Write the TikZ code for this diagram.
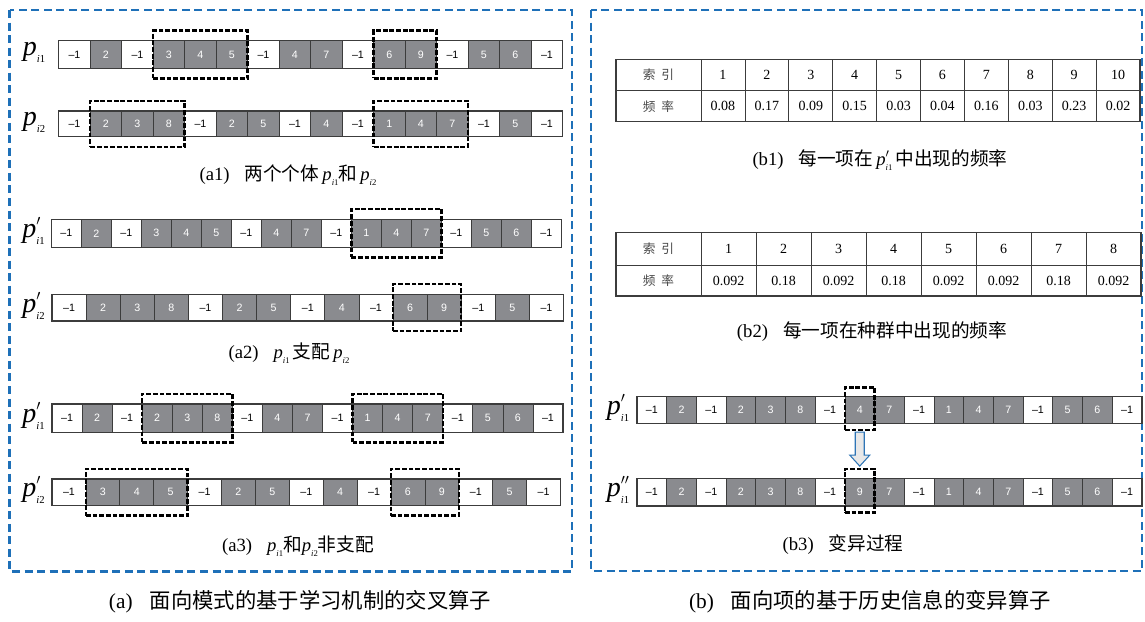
\documentclass[tikz,border=0pt]{standalone}
\usepackage{fontspec}
\setmainfont{Liberation Serif}
\newfontfamily\cjk{Noto Sans CJK SC}
\newfontfamily\cellsf{Liberation Sans}
\usetikzlibrary{fit}
\definecolor{panelblue}{RGB}{30,112,184}
\definecolor{cellgray}{RGB}{138,139,143}
\definecolor{cellline}{RGB}{60,60,60}
\definecolor{arrowblue}{RGB}{46,117,182}
\definecolor{arrowfill}{RGB}{232,232,232}
\definecolor{headgray}{RGB}{70,70,70}

% p with subscript (and optional primes): #1 primes (math), #2 index digit
\newcommand{\pvar}[2]{{\itshape p}\makebox[0pt][l]{\raisebox{0.42em}{$\scriptstyle#1$}}\raisebox{-0.28em}{\fontsize{0.42em}{0.42em}\selectfont\itshape i\upshape #2}}
\newcommand{\pbig}[2]{{\itshape p}\makebox[0pt][l]{\raisebox{0.45em}{\fontsize{11}{11}\selectfont$#1$}}\raisebox{-0.25em}{\fontsize{8}{8}\selectfont\itshape i\upshape #2}}
\newcommand{\psmall}[2]{{\itshape p}\makebox[0pt][l]{\raisebox{0.45em}{\fontsize{9}{9}\selectfont$#1$}}\raisebox{-0.25em}{\fontsize{6.5}{6.5}\selectfont\itshape i\upshape #2}}

\tikzset{
  panel/.style={draw=panelblue, line width=1.8pt, dash pattern=on 6pt off 3.4pt},
  cell/.style={draw=cellline, line width=0.6pt, inner sep=0pt, outer sep=0pt, font=\cellsf\fontsize{8}{9}\selectfont},
  rowframe/.style={draw=cellline, line width=0.9pt},
  selbox/.style={draw=black, line width=1.9pt, dash pattern=on 3.6pt off 1.4pt, inner xsep=0pt, inner ysep=7.6pt, fill=none},
  selboxs/.style={draw=black, line width=1.9pt, dash pattern=on 3.6pt off 1.4pt, inner xsep=0pt, inner ysep=6pt, yshift=1.1pt, fill=none},
  tcell/.style={draw=cellline, line width=0.6pt, inner sep=0pt, outer sep=0pt, font=\fontsize{10.5}{12}\selectfont},
  thead/.style={tcell, text=headgray, font=\cjk\fontsize{9.5}{11}\selectfont},
  rowlabel/.style={inner sep=0pt, font=\fontsize{21}{21}\selectfont},
  subcap/.style={inner sep=0pt, font=\fontsize{14}{16}\selectfont},
  maincap/.style={inner sep=0pt, font=\fontsize{16}{18}\selectfont},
  hollowarrow/.style={draw=arrowblue, line width=0.8pt, fill=arrowfill, line join=miter},
}

% #1 name, #2 x0, #3 y top, #4 y bottom, #5 cell width, #6 list
\newcommand{\cellrow}[6]{%
  \pgfmathsetmacro{\cwpt}{#5*0.75}%
  \pgfmathsetmacro{\chpt}{(#4-#3)*0.75}%
  \pgfmathsetmacro{\cyy}{(#3+#4)/2}%
  \foreach \v [count=\k] in {#6} {%
    \pgfmathsetmacro{\cxx}{#2+(\k-0.5)*#5}%
    \ifnum\v<0
      \node[cell, fill=white, text=black, minimum width=\cwpt pt, minimum height=\chpt pt] (#1-\k) at (\cxx,\cyy) {–1};
    \else
      \node[cell, fill=cellgray, text=white, minimum width=\cwpt pt, minimum height=\chpt pt] (#1-\k) at (\cxx,\cyy) {\v};
    \fi
    \xdef\lastcell{\k}%
  }%
  \draw[rowframe] (#1-1.north west) rectangle (#1-\lastcell.south east);
}

\begin{document}
\begin{tikzpicture}[x=0.75pt,y=-0.75pt]
\useasboundingbox[fill=white] (0,0) rectangle (1145,621);

% panels
\draw[panel] (9.5,10) rectangle (572,571.5);
\draw[panel] (591,10) rectangle (1142,571);

% ---------- (a1)
\node[rowlabel] (la1) at (34,52) {\pbig{}{1}};
\node[rowlabel] (la2) at (34,122) {\pbig{}{2}};
\cellrow{aa}{58.7}{40.7}{68.3}{31.5}{-1,2,-1,3,4,5,-1,4,7,-1,6,9,-1,5,6,-1}
\cellrow{ab}{58.7}{111}{136.7}{31.5}{-1,2,3,8,-1,2,5,-1,4,-1,1,4,7,-1,5,-1}
\node[selbox, fit=(aa-4)(aa-6)] (saa1) {};
\node[selbox, fit=(aa-11)(aa-12)] (saa2) {};
\node[selbox, fit=(ab-2)(ab-4)] (sab1) {};
\node[selbox, fit=(ab-11)(ab-13)] (sab2) {};
\node[subcap] (capa1) at (288,175) {(a1)\hspace{0.8em}{\cjk 两个个体}\,\psmall{}{1}{\cjk 和}\,\psmall{}{2}};

% ---------- (a2)
\node[rowlabel] (lb1) at (33.5,231) {\pbig{\prime}{1}};
\node[rowlabel] (lb2) at (33.5,306) {\pbig{\prime}{2}};
\cellrow{ba}{51.3}{219.3}{247.3}{30}{-1,2,-1,3,4,5,-1,4,7,-1,1,4,7,-1,5,6,-1}
\cellrow{bb}{52}{294.3}{321}{34.1}{-1,2,3,8,-1,2,5,-1,4,-1,6,9,-1,5,-1}
\node[selbox, fit=(ba-11)(ba-13)] (sba1) {};
\node[selbox, fit=(bb-11)(bb-12)] (sbb1) {};
\node[subcap] (capa2) at (289,353) {(a2)\hspace{0.8em}\psmall{}{1}\,{\cjk 支配}\,\psmall{}{2}};

% ---------- (a3)
\node[rowlabel] (lc1) at (33.5,416) {\pbig{\prime}{1}};
\node[rowlabel] (lc2) at (33.5,490) {\pbig{\prime}{2}};
\cellrow{ca}{52}{404}{432.3}{30.06}{-1,2,-1,2,3,8,-1,4,7,-1,1,4,7,-1,5,6,-1}
\cellrow{cb}{52}{479}{505.5}{33.9}{-1,3,4,5,-1,2,5,-1,4,-1,6,9,-1,5,-1}
\node[selbox, fit=(ca-4)(ca-6)] (sca1) {};
\node[selbox, fit=(ca-11)(ca-13)] (sca2) {};
\node[selbox, fit=(cb-2)(cb-4)] (scb1) {};
\node[selbox, fit=(cb-11)(cb-12)] (scb2) {};
\node[subcap] (capa3) at (298,546) {(a3)\hspace{0.8em}\psmall{}{1}{\cjk 和}\psmall{}{2}{\cjk 非支配}};

\node[maincap] (capa) at (300,602) {(a)\hspace{0.8em}{\cjk 面向模式的基于学习机制的交叉算子}};

% ---------- (b1) table
\node[thead, minimum width=63.75pt, minimum height=23.55pt] (ta-h0) at (658.5,75) {索\hspace{0.45em}引};
\node[thead, minimum width=63.75pt, minimum height=23.25pt] (ta-f0) at (658.5,106.2) {频\hspace{0.45em}率};
\foreach \v [count=\k] in {1,2,3,4,5,6,7,8,9,10}
  \node[tcell, minimum width=32.925pt, minimum height=23.55pt] (ta-h\k) at ({701+(\k-0.5)*43.9},75) {\v};
\foreach \v [count=\k] in {0.08,0.17,0.09,0.15,0.03,0.04,0.16,0.03,0.23,0.02}
  \node[tcell, minimum width=32.925pt, minimum height=23.25pt] (ta-f\k) at ({701+(\k-0.5)*43.9},106.2) {\v};
\draw[rowframe] (ta-h0.north west) rectangle (ta-f10.south east);
\node[subcap] (capb1) at (880,160) {(b1)\hspace{0.8em}{\cjk 每一项在}\,\psmall{\prime}{1}\,{\cjk 中出现的频率}};

% ---------- (b2) table
\node[thead, minimum width=63.75pt, minimum height=24.2pt] (tb-h0) at (658.5,248.85) {索\hspace{0.45em}引};
\node[thead, minimum width=63.75pt, minimum height=23.25pt] (tb-f0) at (658.5,280.5) {频\hspace{0.45em}率};
\foreach \v [count=\k] in {1,2,3,4,5,6,7,8}
  \node[tcell, minimum width=41.25pt, minimum height=24.2pt] (tb-h\k) at ({701+(\k-0.5)*55},248.85) {\v};
\foreach \v [count=\k] in {0.092,0.18,0.092,0.18,0.092,0.092,0.18,0.092}
  \node[tcell, minimum width=41.25pt, minimum height=23.25pt] (tb-f\k) at ({701+(\k-0.5)*55},280.5) {\v};
\draw[rowframe] (tb-h0.north west) rectangle (tb-f8.south east);
\node[subcap] (capb2) at (872,332) {(b2)\hspace{0.8em}{\cjk 每一项在种群中出现的频率}};

% ---------- (b3)
\node[rowlabel] (ld1) at (618,408) {\pbig{\prime}{1}};
\node[rowlabel] (ld2) at (618,490) {\pbig{\prime\prime}{1}};
\cellrow{da}{637}{396.7}{423.3}{29.7}{-1,2,-1,2,3,8,-1,4,7,-1,1,4,7,-1,5,6,-1}
\cellrow{db}{637}{478.3}{506}{29.7}{-1,2,-1,2,3,8,-1,9,7,-1,1,4,7,-1,5,6,-1}
\node[selboxs, fit=(da-8)] (sda) {};
\node[selboxs, fit=(db-8)] (sdb) {};
\draw[hollowarrow] ([shift={(-4.5,1)}]sda.south) -- ++(9,0) -- ++(0,23) -- ++(5.5,0)
   -- ++(-10,11) -- ++(-10,-11) -- ++(5.5,0) -- cycle;
\node[subcap] (capb3) at (843,545) {(b3)\hspace{0.8em}{\cjk 变异过程}};

\node[maincap] (capb) at (870,602) {(b)\hspace{0.8em}{\cjk 面向项的基于历史信息的变异算子}};
\end{tikzpicture}
\end{document}
